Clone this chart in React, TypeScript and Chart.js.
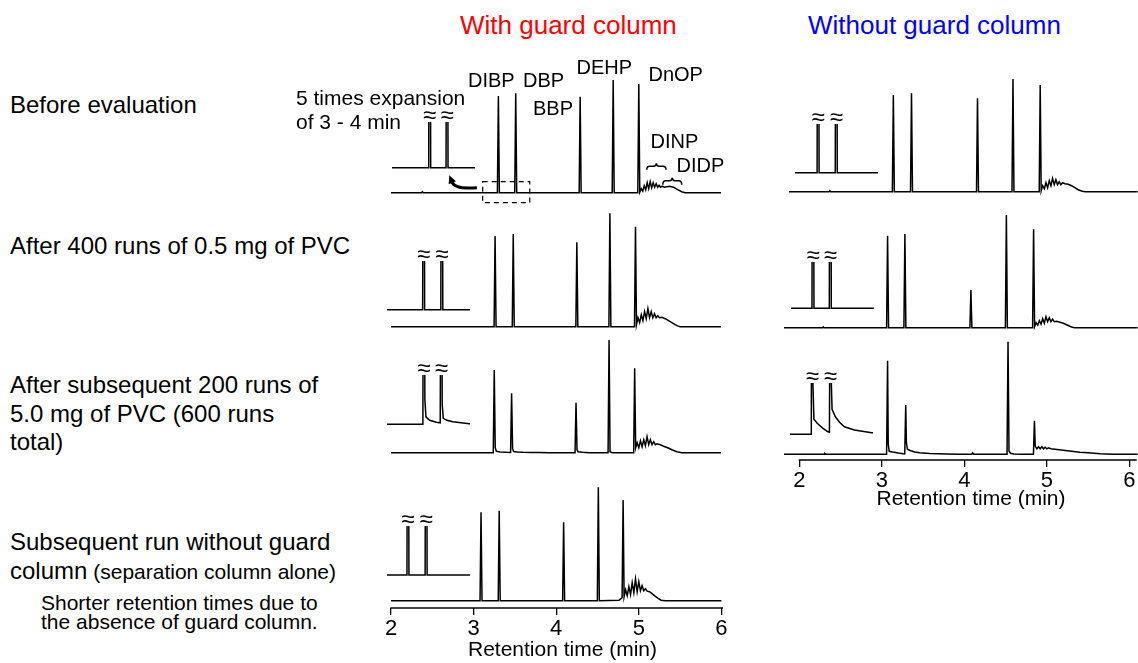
import React, { useEffect, useRef } from "react";
import { Chart, registerables } from "chart.js";
Chart.register(...registerables);

const FONT = '"Liberation Sans", Arial, Helvetica, sans-serif';

// ---------------- DATA (retention time [min], detector response) ----------------
const timeTicks = [2, 3, 4, 5, 6];
const axisTitle = "Retention time (min)";

const beforeGuard: [number, number][] = [
  [2, 0], [2.37, 0], [2.38, 1], [2.39, 0],
  [3.288, 0], [3.3, 96.7], [3.312, 0],
  [3.498, 0], [3.51, 99.4], [3.522, 0],
  [4.278, 0], [4.29, 96], [4.302, 0],
  [4.678, 0], [4.69, 112.7], [4.702, 0],
  [4.988, 0], [5.0, 108.7], [5.012, 0.5],
  [5.03, 4], [5.048, 1.5], [5.066, 7], [5.084, 3], [5.102, 10], [5.12, 4], [5.138, 11],
  [5.156, 5], [5.174, 10], [5.192, 5.5], [5.21, 9], [5.228, 5.5], [5.246, 7.5], [5.264, 5.5],
  [5.285, 6.5], [5.31, 5.5], [5.34, 6], [5.37, 6.5], [5.42, 5.5], [5.47, 3], [5.52, 1],
  [5.56, 0], [6, 0],
];

const after400Guard: [number, number][] = [
  [2, 0],
  [3.248, 0], [3.26, 90.7], [3.272, 0],
  [3.468, 0], [3.48, 92.7], [3.492, 0],
  [4.238, 0], [4.25, 84.4], [4.262, 0],
  [4.638, 0], [4.65, 113.4], [4.662, 0],
  [4.948, 0], [4.96, 100], [4.972, 2],
  [4.99, 9], [5.01, 4], [5.03, 12], [5.05, 6], [5.07, 15], [5.09, 8], [5.11, 18],
  [5.13, 9], [5.15, 15], [5.17, 9], [5.19, 13], [5.21, 9], [5.23, 11], [5.25, 9],
  [5.28, 9.5], [5.32, 8], [5.36, 6], [5.4, 4], [5.44, 2], [5.47, 0.8], [5.5, 0], [6, 0],
];

const after600Guard: [number, number][] = [
  [2, 0],
  [3.238, 0], [3.25, 82.7], [3.262, 5], [3.275, 1.5], [3.32, 0.8], [3.4, 0.4], [3.448, 0.3],
  [3.46, 59.4], [3.472, 4], [3.485, 1.2], [3.53, 0.8], [3.6, 0.5], [3.7, 0.3], [3.8, 0.1], [3.9, 0],
  [4.228, 0], [4.24, 50], [4.252, 3], [4.265, 1], [4.32, 0.4], [4.4, 0],
  [4.628, 0], [4.64, 112.7], [4.652, 1], [4.68, 0],
  [4.938, 0], [4.95, 84.4], [4.962, 5],
  [4.98, 10], [5.0, 5], [5.02, 12], [5.04, 6], [5.06, 13], [5.08, 7], [5.1, 16],
  [5.12, 8], [5.14, 13], [5.16, 8], [5.18, 11], [5.2, 8], [5.22, 9], [5.26, 8],
  [5.3, 6.5], [5.35, 5], [5.4, 3], [5.46, 1], [5.52, 0], [6, 0],
];

const separationOnly: [number, number][] = [
  [2, 0],
  [3.078, 0], [3.09, 88.4], [3.102, 0],
  [3.298, 0], [3.31, 90], [3.322, 0],
  [4.078, 0], [4.09, 78.4], [4.102, 0],
  [4.498, 0], [4.51, 113.4], [4.522, 0],
  [4.76, 0.5], [4.785, 2], [4.798, 3], [4.81, 100.7], [4.822, 4],
  [4.84, 11], [4.86, 5], [4.88, 14], [4.9, 6], [4.92, 18], [4.94, 8], [4.96, 21.7],
  [4.98, 9], [5.0, 19], [5.02, 10], [5.04, 15], [5.06, 10], [5.08, 12], [5.1, 9.5],
  [5.13, 9], [5.16, 7], [5.19, 5], [5.23, 2.5], [5.27, 0.5], [5.32, 0], [6, 0],
];

const beforeNoGuard: [number, number][] = [
  [1.87, 0], [2.36, 0], [2.37, 1], [2.38, 0],
  [3.128, 0], [3.14, 96.7], [3.152, 0],
  [3.348, 0], [3.36, 98.4], [3.372, 0],
  [4.148, 0], [4.16, 93.4], [4.172, 0],
  [4.578, 0], [4.59, 112.7], [4.602, 0],
  [4.908, 0], [4.92, 106.7], [4.932, 1],
  [4.95, 6], [4.97, 3], [4.99, 9], [5.01, 4], [5.03, 11], [5.05, 6], [5.07, 13.3],
  [5.09, 7], [5.11, 12], [5.13, 7], [5.15, 10], [5.17, 7], [5.19, 9], [5.22, 8],
  [5.26, 7.5], [5.3, 6], [5.34, 4], [5.38, 2], [5.43, 0.5], [5.47, 0], [6.1, 0],
];

const after400NoGuard: [number, number][] = [
  [1.81, 0], [2.28, 0], [2.29, 0.8], [2.3, 0],
  [3.058, 0], [3.07, 92], [3.082, 0],
  [3.268, 0], [3.28, 93.7], [3.292, 0],
  [4.068, 0], [4.08, 37.7], [4.092, 0],
  [4.498, 0], [4.51, 112.7], [4.522, 0],
  [4.828, 0], [4.84, 98.4], [4.852, 1],
  [4.87, 5], [4.89, 2.5], [4.91, 7], [4.93, 3.5], [4.95, 9], [4.97, 4.5], [4.99, 11],
  [5.01, 6], [5.03, 10], [5.05, 6], [5.07, 8.5], [5.09, 6], [5.12, 6.5], [5.16, 5.5],
  [5.2, 4.5], [5.24, 3], [5.28, 1.5], [5.31, 0.5], [5.34, 0], [6.1, 0],
];

const after600NoGuard: [number, number][] = [
  [1.81, 0], [2.3, 0], [2.31, 0.8], [2.32, 0],
  [3.058, 0], [3.07, 93.6], [3.078, 10], [3.09, 3], [3.13, 2.2], [3.2, 1.2], [3.26, 0.5],
  [3.278, 0.4], [3.29, 49.3], [3.298, 12], [3.31, 5], [3.35, 3.5], [3.4, 2.4], [3.46, 1.5],
  [3.58, 0.86], [3.79, 0.32], [3.95, 0.1], [4.05, 0],
  [4.09, 0], [4.1, 1.5], [4.115, 0],
  [4.518, 0], [4.53, 112.6], [4.542, 3], [4.56, 1], [4.6, 0.3], [4.7, 0],
  [4.838, 0], [4.85, 33.6], [4.86, 8], [4.88, 5.5], [4.9, 7.5], [4.92, 5.5], [4.94, 7.5],
  [4.96, 5.5], [4.98, 7], [5.0, 5.5], [5.02, 6.5], [5.05, 5.5],
  [5.1, 5], [5.2, 4], [5.3, 3], [5.4, 2], [5.5, 1.5], [5.65, 0.5], [5.8, 0], [6.1, 0],
];

// ---------------- LAYOUT ----------------
type Col = { x0: number; ppm: number };
const LEFT: Col = { x0: 391, ppm: 82.6 };
const RIGHT: Col = { x0: 799.3, ppm: 82.5 };

type Inset = { left: number; base: number; clip: number; t0: number };
type Axis = { y: number; bottom: number; to: number; padLeft: number };
type PanelLayout = {
  data: [number, number][];
  col: Col;
  xmin: number;
  xmax: number;
  base: number;
  above: number;
  below: number;
  axis?: Axis;
  inset: Inset;
  annotate?: boolean;
};

const panels: PanelLayout[] = [
  { data: beforeGuard, col: LEFT, xmin: 2, xmax: 6, base: 192.7, above: 118, below: 12, inset: { left: 391.7, base: 167.7, clip: 121.7, t0: 2.84 }, annotate: true },
  { data: after400Guard, col: LEFT, xmin: 2, xmax: 6, base: 326.7, above: 118, below: 4, inset: { left: 387.3, base: 309.7, clip: 261, t0: 2.82 } },
  { data: after600Guard, col: LEFT, xmin: 2, xmax: 6, base: 452.7, above: 118, below: 4, inset: { left: 386.7, base: 424.3, clip: 375, t0: 2.8 } },
  { data: separationOnly, col: LEFT, xmin: 2, xmax: 6.15, base: 600.7, above: 118, below: 4, axis: { y: 607.7, bottom: 663, to: 6.02, padLeft: 14 }, inset: { left: 387.3, base: 575, clip: 525.7, t0: 2.84 } },
  { data: beforeNoGuard, col: RIGHT, xmin: 1.87, xmax: 6.1, base: 191.7, above: 118, below: 4, inset: { left: 795, base: 172.7, clip: 124, t0: 2.86 } },
  { data: after400NoGuard, col: RIGHT, xmin: 1.81, xmax: 6.1, base: 327.7, above: 118, below: 4, inset: { left: 790.7, base: 308.3, clip: 262, t0: 2.8 } },
  { data: after600NoGuard, col: RIGHT, xmin: 1.81, xmax: 6.35, base: 454.3, above: 118, below: 4, axis: { y: 460, bottom: 511.5, to: 6.09, padLeft: 0 }, inset: { left: 790, base: 434.3, clip: 383.3, t0: 2.8 } },
];

const guardAnnotations = {
  box: { t0: 3.11, t1: 3.68, v0: -10, v1: 11 },
  arrow: { from: [3.04, 5], ctrl: [2.775, 3], to: [2.706, 17.5] },
  braces: [
    { t0: 5.096, t1: 5.33, v: 23, h: 3.5 },
    { t0: 5.29, t1: 5.52, v: 8, h: 4 },
  ],
};

type TextItem = { text: string; left: number; baseline: number; size: number; color?: string; small?: string };
const texts: TextItem[] = [
  { text: "With guard column", left: 460, baseline: 34, size: 26, color: "#ff0000" },
  { text: "Without guard column", left: 808, baseline: 34, size: 26, color: "#0000ff" },
  { text: "Before evaluation", left: 10, baseline: 113.3, size: 24 },
  { text: "After 400 runs of 0.5 mg of PVC", left: 10, baseline: 254, size: 24 },
  { text: "After subsequent 200 runs of", left: 10, baseline: 393, size: 24 },
  { text: "5.0 mg of PVC (600 runs", left: 10, baseline: 422, size: 24 },
  { text: "total)", left: 10, baseline: 450.5, size: 24 },
  { text: "Subsequent run without guard", left: 10, baseline: 550, size: 24 },
  { text: "column", left: 10, baseline: 579.3, size: 24, small: " (separation column alone)" },
  { text: "Shorter retention times due to", left: 41, baseline: 610, size: 21 },
  { text: "the absence of guard column.", left: 41, baseline: 628.3, size: 21 },
  { text: "5 times expansion", left: 296, baseline: 105, size: 21 },
  { text: "of 3 - 4 min", left: 296, baseline: 128.3, size: 21 },
  { text: "DIBP", left: 468, baseline: 86.7, size: 20 },
  { text: "DBP", left: 523, baseline: 86.7, size: 20 },
  { text: "DEHP", left: 576.5, baseline: 74, size: 20 },
  { text: "DnOP", left: 648.5, baseline: 80.7, size: 20 },
  { text: "BBP", left: 533, baseline: 115, size: 20 },
  { text: "DINP", left: 650.5, baseline: 148.3, size: 20 },
  { text: "DIDP", left: 676.5, baseline: 172.3, size: 20 },
];

// ---------------- CHART SPECS ----------------
type Spec = { left: number; top: number; w: number; h: number; make: () => any };

const LW = 1.5;

function lineDataset(data: [number, number][]) {
  return {
    data: data.map(([x, y]) => ({ x, y })),
    borderColor: "#000",
    borderWidth: LW,
    pointRadius: 0,
    tension: 0,
    fill: false,
  };
}

function mainSpec(p: PanelLayout): Spec {
  const padLeft = p.axis ? p.axis.padLeft : 0;
  const { x0, ppm } = p.col;
  const areaLeft = x0 + (p.xmin - 2) * ppm;
  const left = Math.round(areaLeft - padLeft);
  const xmin = 2 + (left + padLeft - x0) / ppm;
  const w = Math.round(x0 + (p.xmax - 2) * ppm - left);
  const xmax = 2 + (left + w - x0) / ppm;
  const top = Math.round(p.base - p.above);
  const ymax = p.base - top;
  let h: number;
  let axisH = 0;
  if (p.axis) {
    const areaH = Math.round(p.axis.y - top);
    h = Math.round(p.axis.bottom - top);
    axisH = h - areaH;
  } else {
    h = Math.round(p.above + p.below);
  }
  const ymin = p.base - (top + h - axisH);
  const axis = p.axis;
  const annotate = p.annotate;

  const make = () => ({
    type: "line",
    data: { datasets: [lineDataset(p.data)] },
    options: {
      animation: false,
      responsive: false,
      devicePixelRatio: 1,
      events: [],
      layout: { padding: { left: padLeft, top: 0, right: 0, bottom: 0 }, autoPadding: false },
      plugins: { legend: { display: false }, tooltip: { enabled: false }, title: { display: false } },
      scales: {
        x: {
          type: "linear",
          min: xmin,
          max: xmax,
          display: !!axis,
          border: { display: false },
          grid: { display: true, drawOnChartArea: false, drawTicks: true, tickLength: 7, color: "#000", lineWidth: 1.3 },
          ticks: {
            color: "#000",
            font: { family: FONT, size: 22, lineHeight: 1 },
            padding: 3,
            maxRotation: 0,
            autoSkip: false,
            includeBounds: false,
          },
          afterBuildTicks: (s: any) => {
            s.ticks = timeTicks.map((v) => ({ value: v }));
          },
          title: { display: true, text: axisTitle, color: "#000", font: { family: FONT, size: 21, lineHeight: 1.2 }, padding: 0 },
          afterFit: (s: any) => {
            s.height = axisH;
          },
        },
        y: { type: "linear", min: ymin, max: ymax, display: false },
      },
    },
    plugins: [
      {
        id: "axisLine",
        afterDraw(chart: any) {
          if (!axis) return;
          const { ctx, chartArea } = chart;
          const xs = chart.scales.x;
          ctx.save();
          ctx.strokeStyle = "#000";
          ctx.lineWidth = 1.3;
          ctx.beginPath();
          ctx.moveTo(xs.getPixelForValue(2) - 0.65, chartArea.bottom);
          ctx.lineTo(xs.getPixelForValue(axis.to), chartArea.bottom);
          ctx.stroke();
          ctx.restore();
        },
      },
      {
        id: "guardAnnotations",
        afterDatasetsDraw(chart: any) {
          if (!annotate) return;
          const { ctx } = chart;
          const X = (t: number) => chart.scales.x.getPixelForValue(t);
          const Y = (v: number) => chart.scales.y.getPixelForValue(v);
          const a = guardAnnotations;
          ctx.save();
          ctx.strokeStyle = "#000";
          ctx.lineWidth = 1.2;
          ctx.setLineDash([5, 4]);
          ctx.strokeRect(X(a.box.t0), Y(a.box.v1), X(a.box.t1) - X(a.box.t0), Y(a.box.v0) - Y(a.box.v1));
          ctx.setLineDash([]);
          const [fx, fy] = [X(a.arrow.from[0]), Y(a.arrow.from[1])];
          const [cx, cy] = [X(a.arrow.ctrl[0]), Y(a.arrow.ctrl[1])];
          const [tx, ty] = [X(a.arrow.to[0]), Y(a.arrow.to[1])];
          const ang = Math.atan2(ty - cy, tx - cx);
          const headLen = 9;
          const bx = tx - Math.cos(ang) * headLen * 0.8;
          const by = ty - Math.sin(ang) * headLen * 0.8;
          ctx.lineWidth = 3;
          ctx.beginPath();
          ctx.moveTo(fx, fy);
          ctx.quadraticCurveTo(cx, cy, bx, by);
          ctx.stroke();
          ctx.fillStyle = "#000";
          ctx.beginPath();
          ctx.moveTo(tx, ty);
          ctx.lineTo(tx - Math.cos(ang - 0.45) * headLen, ty - Math.sin(ang - 0.45) * headLen);
          ctx.lineTo(tx - Math.cos(ang + 0.45) * headLen, ty - Math.sin(ang + 0.45) * headLen);
          ctx.closePath();
          ctx.fill();
          ctx.lineWidth = 1.5;
          for (const b of a.braces) {
            const x0 = X(b.t0), x1 = X(b.t1), xm = (x0 + x1) / 2;
            const yb = Y(b.v), yt = Y(b.v + b.h), yp = Y(b.v + b.h + 3);
            ctx.beginPath();
            ctx.moveTo(x0, yb);
            ctx.quadraticCurveTo(x0, yt, x0 + 3, yt);
            ctx.lineTo(xm - 3, yt);
            ctx.quadraticCurveTo(xm, yt, xm, yp);
            ctx.quadraticCurveTo(xm, yt, xm + 3, yt);
            ctx.lineTo(x1 - 3, yt);
            ctx.quadraticCurveTo(x1, yt, x1, yb);
            ctx.stroke();
          }
          ctx.restore();
        },
      },
    ],
  });
  return { left, top, w, h, make };
}

function insetSpec(p: PanelLayout): Spec {
  const { ppm } = p.col;
  const ins = p.inset;
  const scaleY = 5; // 5 times expansion
  const padTop = 18;
  const left = Math.round(ins.left);
  const w = Math.round(ppm);
  const xmin = ins.t0 + (left - ins.left) / ppm;
  const xmax = xmin + w / ppm;
  const top = Math.round(ins.clip - padTop);
  const areaTop = top + padTop;
  const h = Math.round(ins.base + 3 - top);
  const ymax = (ins.base - areaTop) / scaleY;
  const ymin = -(top + h - ins.base) / scaleY;
  const data = p.data;
  const make = () => ({
    type: "line",
    data: { datasets: [lineDataset(data)] },
    options: {
      animation: false,
      responsive: false,
      devicePixelRatio: 1,
      events: [],
      layout: { padding: { left: 0, top: padTop, right: 0, bottom: 0 }, autoPadding: false },
      plugins: { legend: { display: false }, tooltip: { enabled: false } },
      scales: {
        x: { type: "linear", min: xmin, max: xmax, display: false },
        y: { type: "linear", min: ymin, max: ymax, display: false },
      },
    },
    plugins: [
      {
        id: "breakMarks",
        afterDatasetsDraw(chart: any) {
          const { ctx, chartArea } = chart;
          const xs = chart.scales.x;
          const ys = chart.scales.y;
          ctx.save();
          ctx.fillStyle = "#000";
          ctx.font = `24px ${FONT}`;
          ctx.textAlign = "center";
          ctx.textBaseline = "middle";
          for (let i = 1; i < data.length - 1; i++) {
            const [t, v] = data[i];
            if (v > ys.max && v >= data[i - 1][1] && v >= data[i + 1][1] && t >= xs.min && t <= xs.max) {
              ctx.fillText("\u2248", xs.getPixelForValue(t), chartArea.top - 6);
            }
          }
          ctx.restore();
        },
      },
    ],
  });
  return { left, top, w, h, make };
}

const specs: Spec[] = [];
for (const p of panels) {
  specs.push(mainSpec(p));
  specs.push(insetSpec(p));
}

function TraceCanvas({ spec }: { spec: Spec }) {
  const ref = useRef<HTMLCanvasElement>(null);
  useEffect(() => {
    const chart = new Chart(ref.current as HTMLCanvasElement, spec.make());
    return () => chart.destroy();
  }, [spec]);
  return (
    <canvas
      ref={ref}
      width={spec.w}
      height={spec.h}
      style={{ position: "absolute", left: spec.left, top: spec.top, width: spec.w, height: spec.h }}
    />
  );
}

export default function App() {
  return (
    <div
      style={{
        position: "absolute",
        left: 0,
        top: 0,
        width: 1138,
        height: 663,
        overflow: "hidden",
        background: "#fff",
        fontFamily: FONT,
        color: "#000",
      }}
    >
      {specs.map((s, i) => (
        <TraceCanvas key={i} spec={s} />
      ))}
      {texts.map((t, i) => (
        <div
          key={"t" + i}
          style={{
            position: "absolute",
            left: t.left,
            top: t.baseline - 0.8465 * t.size,
            fontSize: t.size,
            lineHeight: `${t.size}px`,
            whiteSpace: "pre",
            color: t.color || "#000",
          }}
        >
          {t.text}
          {t.small ? <span style={{ fontSize: 21 }}>{t.small}</span> : null}
        </div>
      ))}
    </div>
  );
}
